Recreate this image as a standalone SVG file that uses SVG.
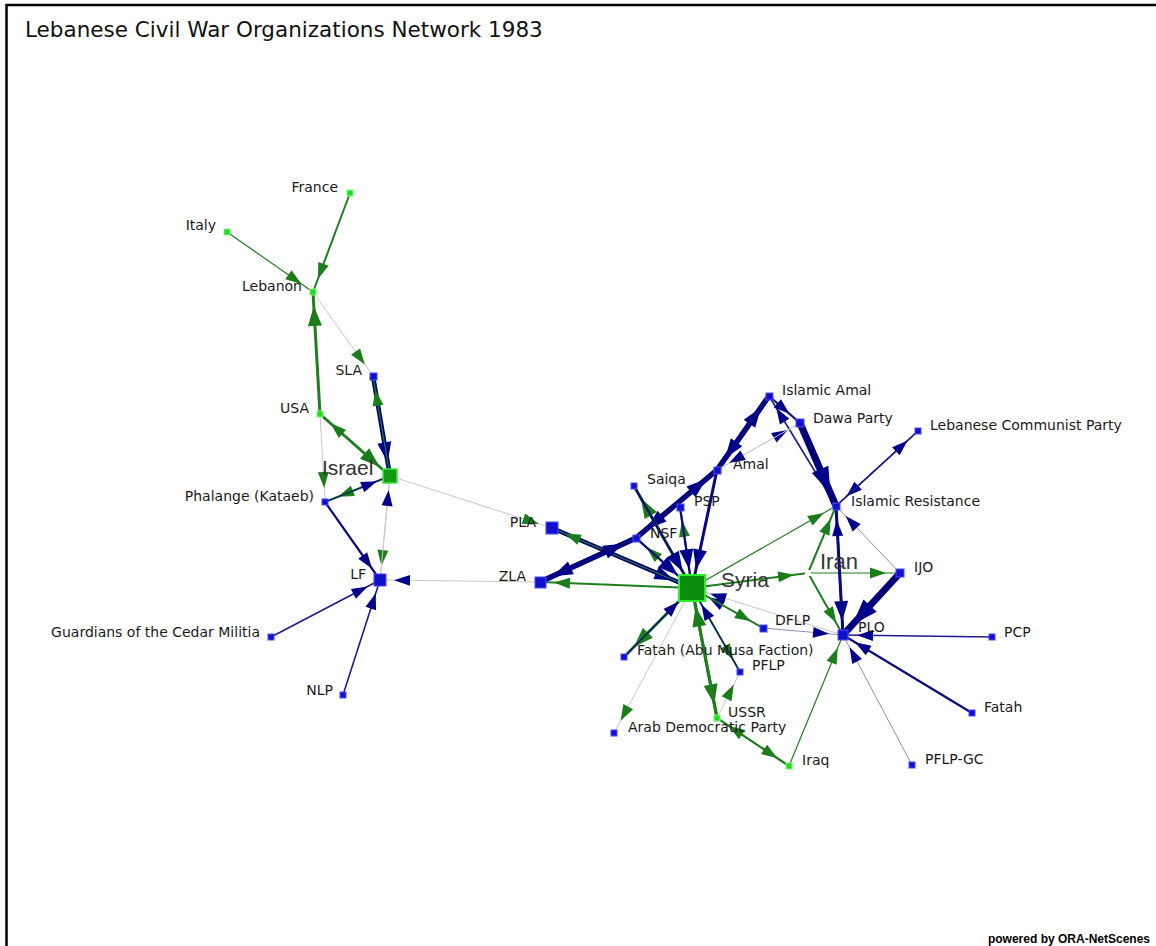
<svg xmlns="http://www.w3.org/2000/svg" width="1156" height="946" viewBox="0 0 1156 946">
<style>
.lbl{font-family:"DejaVu Sans",sans-serif;font-size:14px;fill:#1a1a1a}
.r{text-anchor:end}
.big{font-family:"Liberation Sans",Arial,sans-serif;font-size:21px;fill:#333}
.ng{fill:#22d822;stroke:#7cff7c;stroke-width:1}
.nb{fill:#1010cc;stroke:#4a4aff;stroke-width:1}
line{stroke-linecap:butt}
.g1{stroke:#1f7f1f;stroke-width:1.2}
.g2{stroke:#1f7f1f;stroke-width:2}
.g3{stroke:#1f7f1f;stroke-width:3}
.b1{stroke:#0c0c80;stroke-width:1.2}
.b15{stroke:#1c1c8c;stroke-width:1.6}
.b2{stroke:#0a0a80;stroke-width:2.2}
.b3{stroke:#0a0a80;stroke-width:3}
.b4{stroke:#000078;stroke-width:4.5}
.b5{stroke:#000078;stroke-width:5.5}
.b7{stroke:#000078;stroke-width:7}
.gr{stroke:#c8c8c8;stroke-width:1}
.pu{stroke:#8c8cc0;stroke-width:1}
</style>
<defs>
<marker id="gs" markerUnits="userSpaceOnUse" markerWidth="16" markerHeight="11" refX="30" refY="5.5" orient="auto" overflow="visible"><path d="M0,0L16,5.5L0,11z" fill="#1a7d1a"/></marker>
<marker id="gl" markerUnits="userSpaceOnUse" markerWidth="20" markerHeight="14" refX="34" refY="7" orient="auto" overflow="visible"><path d="M0,0L20,7L0,14z" fill="#1a7d1a"/></marker>
<marker id="bs" markerUnits="userSpaceOnUse" markerWidth="16" markerHeight="11" refX="30" refY="5.5" orient="auto" overflow="visible"><path d="M0,0L16,5.5L0,11z" fill="#00008a"/></marker>
<marker id="bl" markerUnits="userSpaceOnUse" markerWidth="20" markerHeight="14" refX="34" refY="7" orient="auto" overflow="visible"><path d="M0,0L20,7L0,14z" fill="#00008a"/></marker>
<marker id="bx" markerUnits="userSpaceOnUse" markerWidth="26" markerHeight="18" refX="40" refY="9" orient="auto" overflow="visible"><path d="M0,0L26,9L0,18z" fill="#00008a"/></marker>
<marker id="gsS" markerUnits="userSpaceOnUse" markerWidth="16" markerHeight="11" refX="35" refY="5.5" orient="auto" overflow="visible"><path d="M0,0L16,5.5L0,11z" fill="#1a7d1a"/></marker>
<marker id="glS" markerUnits="userSpaceOnUse" markerWidth="20" markerHeight="14" refX="39" refY="7" orient="auto" overflow="visible"><path d="M0,0L20,7L0,14z" fill="#1a7d1a"/></marker>
<marker id="bsS" markerUnits="userSpaceOnUse" markerWidth="16" markerHeight="11" refX="35" refY="5.5" orient="auto" overflow="visible"><path d="M0,0L16,5.5L0,11z" fill="#00008a"/></marker>
<marker id="blS" markerUnits="userSpaceOnUse" markerWidth="20" markerHeight="14" refX="39" refY="7" orient="auto" overflow="visible"><path d="M0,0L20,7L0,14z" fill="#00008a"/></marker>
</defs>
<rect x="0" y="0" width="1156" height="946" fill="#fff"/>
<path d="M6.5,946V5H1156" fill="none" stroke="#000" stroke-width="2.5"/>
<text x="25" y="37" style="font-family:'DejaVu Sans',sans-serif;font-size:21.5px;fill:#111">Lebanese Civil War Organizations Network 1983</text>
<text x="1150" y="943" style="font-family:'Liberation Sans',Arial,sans-serif;font-size:12px;font-weight:bold;fill:#000;text-anchor:end">powered by ORA-NetScenes</text>

<g id="connectors">
<line class="g2" x1="350" y1="193" x2="313" y2="292" marker-end="url(#gs)"/>
<line class="g1" x1="227" y1="232" x2="313" y2="292" marker-end="url(#gs)"/>
<line class="gr" x1="313" y1="292" x2="373" y2="376" marker-end="url(#gs)"/>
<line class="g3" x1="320" y1="414" x2="313" y2="292" marker-end="url(#gl)"/>
<line class="g3" x1="320" y1="414" x2="390" y2="476" marker-end="url(#gl)"/>
<line class="g1" x1="390" y1="476" x2="320" y2="414" marker-end="url(#gs)"/>
<line class="b4" x1="373" y1="376" x2="390" y2="476" marker-end="url(#bl)"/>
<line class="g1" x1="390" y1="476" x2="373" y2="376" marker-end="url(#gs)"/>
<line class="gr" x1="320" y1="414" x2="325" y2="502" marker-end="url(#gs)"/>
<line class="g2" x1="390" y1="476" x2="325" y2="502" marker-end="url(#gs)"/>
<line class="b1" x1="325" y1="502" x2="390" y2="476" marker-end="url(#bs)"/>
<line class="b2" x1="325" y1="502" x2="380" y2="580" marker-end="url(#bs)"/>
<line class="gr" x1="390" y1="476" x2="380" y2="580" marker-end="url(#gs)"/>
<line class="gr" x1="380" y1="580" x2="390" y2="476" marker-end="url(#bs)"/>
<line class="b15" x1="271" y1="637" x2="380" y2="580" marker-end="url(#bs)"/>
<line class="b15" x1="343" y1="695" x2="380" y2="580" marker-end="url(#bs)"/>
<line class="gr" x1="540" y1="582" x2="380" y2="580" marker-end="url(#bs)"/>
<line class="gr" x1="390" y1="476" x2="552" y2="528" marker-end="url(#gs)"/>

<line class="g2" x1="692" y1="588" x2="540" y2="582" marker-end="url(#gs)"/>
<line class="b4" x1="552" y1="528" x2="692" y2="588" marker-end="url(#blS)"/>
<line class="g1" x1="692" y1="588" x2="552" y2="528" marker-end="url(#gs)"/>
<line class="b5" x1="540" y1="582" x2="636" y2="538" marker-end="url(#bl)"/>
<line class="b3" x1="636" y1="538" x2="540" y2="582" marker-end="url(#bl)"/>
<line class="b5" x1="636" y1="538" x2="717" y2="470" marker-end="url(#bl)"/>
<line class="b3" x1="717" y1="470" x2="636" y2="538" marker-end="url(#bl)"/>
<line class="b5" x1="717" y1="470" x2="769" y2="396" marker-end="url(#bl)"/>
<line class="b3" x1="769" y1="396" x2="717" y2="470" marker-end="url(#bl)"/>
<line class="g3" x1="692" y1="588" x2="634" y2="486" marker-end="url(#gl)"/>
<line class="b2" x1="634" y1="486" x2="692" y2="588" marker-end="url(#blS)"/>
<line class="g2" x1="692" y1="588" x2="636" y2="538" marker-end="url(#gs)"/>
<line class="b2" x1="636" y1="538" x2="692" y2="588" marker-end="url(#blS)"/>
<line class="g2" x1="692" y1="588" x2="680" y2="507" marker-end="url(#gs)"/>
<line class="b2" x1="680" y1="507" x2="692" y2="588" marker-end="url(#blS)"/>
<line class="b3" x1="717" y1="470" x2="692" y2="588" marker-end="url(#blS)"/>
<line class="g1" x1="692" y1="588" x2="836" y2="506" marker-end="url(#gs)"/>
<line class="g2" x1="692" y1="588" x2="808" y2="573" marker-end="url(#gs)"/>
<line class="g1" x1="808" y1="573" x2="900" y2="573" marker-end="url(#gs)"/>
<line class="g2" x1="808" y1="573" x2="836" y2="506" marker-end="url(#gs)"/>
<line class="g2" x1="808" y1="573" x2="843" y2="635" marker-end="url(#gs)"/>
<line class="pu" x1="900" y1="573" x2="836" y2="506" marker-end="url(#bs)"/>
<line class="b7" x1="900" y1="573" x2="843" y2="635" marker-end="url(#bx)"/>
<line class="b3" x1="836" y1="506" x2="843" y2="635" marker-end="url(#bl)"/>
<line class="b2" x1="843" y1="635" x2="836" y2="506" marker-end="url(#bs)"/>
<line class="b15" x1="836" y1="506" x2="769" y2="396" marker-end="url(#bs)"/>
<line class="b7" x1="800" y1="423" x2="836" y2="506" marker-end="url(#bx)"/>
<line class="b2" x1="769" y1="396" x2="800" y2="423" marker-end="url(#bs)"/>
<line class="gr" x1="717" y1="470" x2="800" y2="423" marker-end="url(#bs)"/>
<line class="gr" x1="800" y1="423" x2="717" y2="470" marker-end="url(#bs)"/>
<line class="b15" x1="918" y1="431" x2="836" y2="506" marker-end="url(#bs)"/>
<line class="b15" x1="836" y1="506" x2="918" y2="431" marker-end="url(#bs)"/>
<line class="pu" x1="763" y1="628" x2="843" y2="635" marker-end="url(#bs)"/>
<line class="b1" x1="763" y1="628" x2="692" y2="588" marker-end="url(#bsS)"/>
<line class="g2" x1="692" y1="588" x2="763" y2="628" marker-end="url(#gs)"/>
<line class="b15" x1="992" y1="637" x2="843" y2="635" marker-end="url(#bs)"/>
<line class="b2" x1="972" y1="713" x2="843" y2="635" marker-end="url(#bs)"/>
<line class="pu" x1="912" y1="765" x2="843" y2="635" marker-end="url(#bs)"/>
<line class="g1" x1="789" y1="766" x2="843" y2="635" marker-end="url(#gs)"/>
<line class="gr" x1="843" y1="635" x2="692" y2="588" marker-end="url(#bsS)"/>
<line class="g3" x1="692" y1="588" x2="624" y2="657" marker-end="url(#gl)"/>
<line class="b1" x1="624" y1="657" x2="692" y2="588" marker-end="url(#bsS)"/>
<line class="gr" x1="692" y1="588" x2="614" y2="733" marker-end="url(#gs)"/>
<line class="g3" x1="692" y1="588" x2="717" y2="718" marker-end="url(#gl)"/>
<line class="g3" x1="717" y1="718" x2="692" y2="588" marker-end="url(#glS)"/>
<line class="g2" x1="692" y1="588" x2="740" y2="672" marker-end="url(#gs)"/>
<line class="b1" x1="740" y1="672" x2="692" y2="588" marker-end="url(#bsS)"/>
<line class="gr" x1="717" y1="718" x2="740" y2="672" marker-end="url(#gs)"/>
<line class="g2" x1="717" y1="718" x2="789" y2="766" marker-end="url(#gs)"/>
<line class="g2" x1="789" y1="766" x2="717" y2="718" marker-end="url(#gs)"/>
</g>

<g id="n-france"><rect class="ng" x="347" y="190" width="6" height="6"/><text class="lbl r" x="338" y="192">France</text></g>
<g id="n-italy"><rect class="ng" x="224" y="229" width="6" height="6"/><text class="lbl r" x="216" y="230">Italy</text></g>
<g id="n-lebanon"><rect class="ng" x="310" y="289" width="6" height="6"/><text class="lbl r" x="302" y="291">Lebanon</text></g>
<g id="n-sla"><rect class="nb" x="370" y="373" width="7" height="7"/><text class="lbl r" x="362" y="375">SLA</text></g>
<g id="n-usa"><rect class="ng" x="317" y="411" width="6" height="6"/><text class="lbl r" x="309" y="413">USA</text></g>
<g id="n-israel"><rect x="383" y="469" width="14" height="14" fill="#129a12" stroke="#3ee83e" stroke-width="1.5"/><text class="big" x="322" y="475">Israel</text></g>
<g id="n-phalange"><rect class="nb" x="322" y="499" width="6" height="6"/><text class="lbl r" x="314" y="501">Phalange (Kataeb)</text></g>
<g id="n-lf"><rect class="nb" x="374" y="574" width="12" height="12"/><text class="lbl r" x="366" y="579">LF</text></g>
<g id="n-guardians"><rect class="nb" x="268" y="634" width="6" height="6"/><text class="lbl r" x="260" y="637">Guardians of the Cedar Militia</text></g>
<g id="n-nlp"><rect class="nb" x="340" y="692" width="6" height="6"/><text class="lbl r" x="333" y="695">NLP</text></g>
<g id="n-pla"><rect class="nb" x="546" y="522" width="12" height="12"/><text class="lbl r" x="536" y="527">PLA</text></g>
<g id="n-zla"><rect class="nb" x="535" y="577" width="11" height="11"/><text class="lbl r" x="526" y="581">ZLA</text></g>
<g id="n-syria"><rect x="679" y="575" width="26" height="26" fill="#0c8c0c" stroke="#2cf02c" stroke-width="2"/><text class="big" x="721" y="587">Syria</text></g>
<g id="n-saiqa"><rect class="nb" x="631" y="483" width="6" height="6"/><text class="lbl" x="647" y="484">Saiqa</text></g>
<g id="n-psp"><rect class="nb" x="677" y="504" width="7" height="7"/><text class="lbl" x="694" y="506">PSP</text></g>
<g id="n-nsf"><rect class="nb" x="633" y="535" width="7" height="7"/><text class="lbl" x="650" y="538">NSF</text></g>
<g id="n-amal"><rect class="nb" x="714" y="467" width="7" height="7"/><text class="lbl" x="733" y="469">Amal</text></g>
<g id="n-islamic-amal"><rect class="nb" x="766" y="393" width="7" height="7"/><text class="lbl" x="782" y="395">Islamic Amal</text></g>
<g id="n-dawa"><rect class="nb" x="796" y="419" width="8" height="8"/><text class="lbl" x="813" y="423">Dawa Party</text></g>
<g id="n-lcp"><rect class="nb" x="915" y="428" width="6" height="6"/><text class="lbl" x="930" y="430">Lebanese Communist Party</text></g>
<g id="n-ir"><rect class="nb" x="833" y="503" width="7" height="7"/><text class="lbl" x="851" y="506">Islamic Resistance</text></g>
<g id="n-iran"><rect x="805" y="570" width="6" height="6" fill="#fff"/><text class="big" x="820" y="569" style="font-size:22px">Iran</text></g>
<g id="n-ijo"><rect class="nb" x="896" y="569" width="8" height="8"/><text class="lbl" x="914" y="572">IJO</text></g>
<g id="n-plo"><rect class="nb" x="838" y="630" width="10" height="10"/><text class="lbl" x="858" y="632">PLO</text></g>
<g id="n-dflp"><rect class="nb" x="760" y="625" width="7" height="7"/><text class="lbl" x="775" y="625">DFLP</text></g>
<g id="n-pcp"><rect class="nb" x="989" y="634" width="6" height="6"/><text class="lbl" x="1004" y="637">PCP</text></g>
<g id="n-fatah"><rect class="nb" x="969" y="710" width="6" height="6"/><text class="lbl" x="984" y="712">Fatah</text></g>
<g id="n-pflpgc"><rect class="nb" x="909" y="762" width="6" height="6"/><text class="lbl" x="925" y="764">PFLP-GC</text></g>
<g id="n-fatah-am"><rect class="nb" x="621" y="654" width="6" height="6"/><text class="lbl" x="637" y="655">Fatah (Abu Musa Faction)</text></g>
<g id="n-pflp"><rect class="nb" x="737" y="669" width="6" height="6"/><text class="lbl" x="752" y="670">PFLP</text></g>
<g id="n-ussr"><rect class="ng" x="714" y="715" width="6" height="6"/><text class="lbl" x="728" y="717">USSR</text></g>
<g id="n-adp"><rect class="nb" x="611" y="730" width="6" height="6"/><text class="lbl" x="628" y="732">Arab Democratic Party</text></g>
<g id="n-iraq"><rect class="ng" x="786" y="763" width="6" height="6"/><text class="lbl" x="802" y="765">Iraq</text></g>
</svg>
